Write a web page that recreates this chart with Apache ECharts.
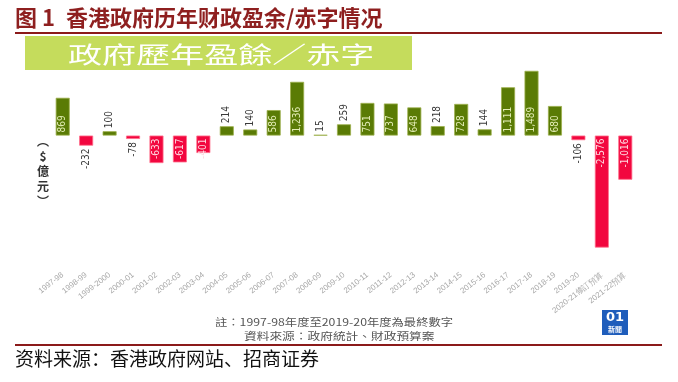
<!DOCTYPE html>
<html>
<head>
<meta charset="utf-8">
<script src="https://cdn.jsdelivr.net/npm/echarts@6/dist/echarts.min.js"></script>
<style>
html,body{margin:0;padding:0;background:#fff;}
#chart{width:678px;height:382px;}
</style>
</head>
<body>
<div id="chart"></div>
<script>
const categories = ['1997-98','1998-99','1999-2000','2000-01','2001-02','2002-03','2003-04','2004-05','2005-06','2006-07','2007-08','2008-09','2009-10','2010-11','2011-12','2012-13','2013-14','2014-15','2015-16','2016-17','2017-18','2018-19','2019-20','2020-21修訂預算','2021-22預算'];
const values = [869,-232,100,-78,-633,-617,-401,214,140,586,1236,15,259,751,737,648,218,728,144,1111,1489,680,-106,-2576,-1016];
const figLabel = '图 1';
const titleText = '香港政府历年财政盈余/赤字情况';
const bannerText = '政府歷年盈餘／赤字';
const unitText = '︵\n$\n億\n元\n︶';
const noteLines = ['註：1997-98年度至2019-20年度為最終數字', '資料來源：政府統計、財政預算案'];
const sourceText = '资料来源：香港政府网站、招商证券';

const GREEN = '#5a7b05', RED = '#f2073f';
const fmt = v => v.toLocaleString('en-US');
const LABEL_FONT = '"Liberation Sans Narrow", "DejaVu Sans Condensed", "Liberation Sans", sans-serif';

const barData = values.map(v => {
  const neg = v < 0;
  const outside = Math.abs(v) < 300;
  let pos, align, color;
  if (!neg) {
    pos = outside ? 'top' : 'insideBottom';
    align = 'left';
    color = outside ? '#3a3a3a' : '#e2ecb4';
  } else {
    pos = outside ? 'bottom' : 'insideTop';
    align = 'right';
    color = outside ? '#3a3a3a' : '#ffd9e1';
  }
  return {
    value: v,
    itemStyle: { color: neg ? RED : GREEN, borderColor: neg ? '#ff6f8c' : '#9db04c', borderWidth: 0.8 },
    label: { show: true, position: pos, rotate: 90, align: align, verticalAlign: 'middle', distance: 3, color: color }
  };
});

const chart = echarts.init(document.getElementById('chart'));
chart.setOption({
  backgroundColor: '#ffffff',
  animation: false,
  grid: { left: 51, right: 41, top: 66, bottom: 116 },
  xAxis: {
    type: 'category',
    data: categories,
    axisLine: { show: false },
    axisTick: { show: false },
    axisLabel: { interval: 0, rotate: 38, fontSize: 8, color: '#a8a8a8', margin: 8, fontFamily: 'Liberation Sans' }
  },
  yAxis: {
    type: 'value', min: -3000, max: 1600, interval: 200,
    axisLine: { show: false }, axisTick: { show: false }, axisLabel: { show: false }, splitLine: { show: false }
  },
  series: [{
    type: 'bar',
    data: barData,
    barWidth: 14,
    label: { fontSize: 10, fontFamily: LABEL_FONT, formatter: p => fmt(p.value) }
  }],
  graphic: [
    { type: 'text', x: 15, y: 18, style: { text: figLabel, font: 'bold 22px "Noto Sans CJK SC"', fill: '#8e1f1f', textVerticalAlign: 'middle' } },
    { type: 'text', x: 66, y: 18, style: { text: titleText, font: 'bold 22px "Noto Sans CJK SC"', fill: '#8e1f1f', textVerticalAlign: 'middle' } },
    { type: 'line', shape: { x1: 15, y1: 33, x2: 662, y2: 33 }, style: { stroke: '#8b1a1a', lineWidth: 2 } },
    { type: 'rect', shape: { x: 25, y: 36, width: 387, height: 34 }, style: { fill: '#c5dc5c' } },
    { type: 'text', x: 68, y: 54, scaleX: 1.48, style: { text: bannerText, font: '23px "Noto Sans CJK TC"', fill: '#ffffff', textVerticalAlign: 'middle' } },
    { type: 'text', x: 43, y: 134, style: { text: unitText, font: 'bold 12px "Noto Sans CJK TC"', fill: '#333', textAlign: 'center', lineHeight: 15 } },
    { type: 'text', x: 215, y: 322, scaleX: 1.23, style: { text: noteLines[0], font: '10px "Noto Sans CJK TC"', fill: '#555', textVerticalAlign: 'middle' } },
    { type: 'text', x: 244, y: 336, scaleX: 1.27, style: { text: noteLines[1], font: '10px "Noto Sans CJK TC"', fill: '#555', textVerticalAlign: 'middle' } },
    { type: 'rect', shape: { x: 602, y: 310, width: 26, height: 25 }, style: { fill: '#1f5dbb' } },
    { type: 'text', x: 615, y: 318, style: { text: '01', font: 'bold 13px "DejaVu Sans"', fill: '#fff', textAlign: 'center', textVerticalAlign: 'middle' } },
    { type: 'text', x: 615, y: 329, style: { text: '新聞', font: 'bold 7px "Noto Sans CJK TC"', fill: '#fff', textAlign: 'center', textVerticalAlign: 'middle' } },
    { type: 'line', shape: { x1: 15, y1: 345, x2: 662, y2: 345 }, style: { stroke: '#8b1a1a', lineWidth: 2 } },
    { type: 'text', x: 15, y: 359, style: { text: sourceText, font: '19px "Noto Sans CJK SC"', fill: '#111', textVerticalAlign: 'middle' } }
  ]
});
</script>
</body>
</html>
